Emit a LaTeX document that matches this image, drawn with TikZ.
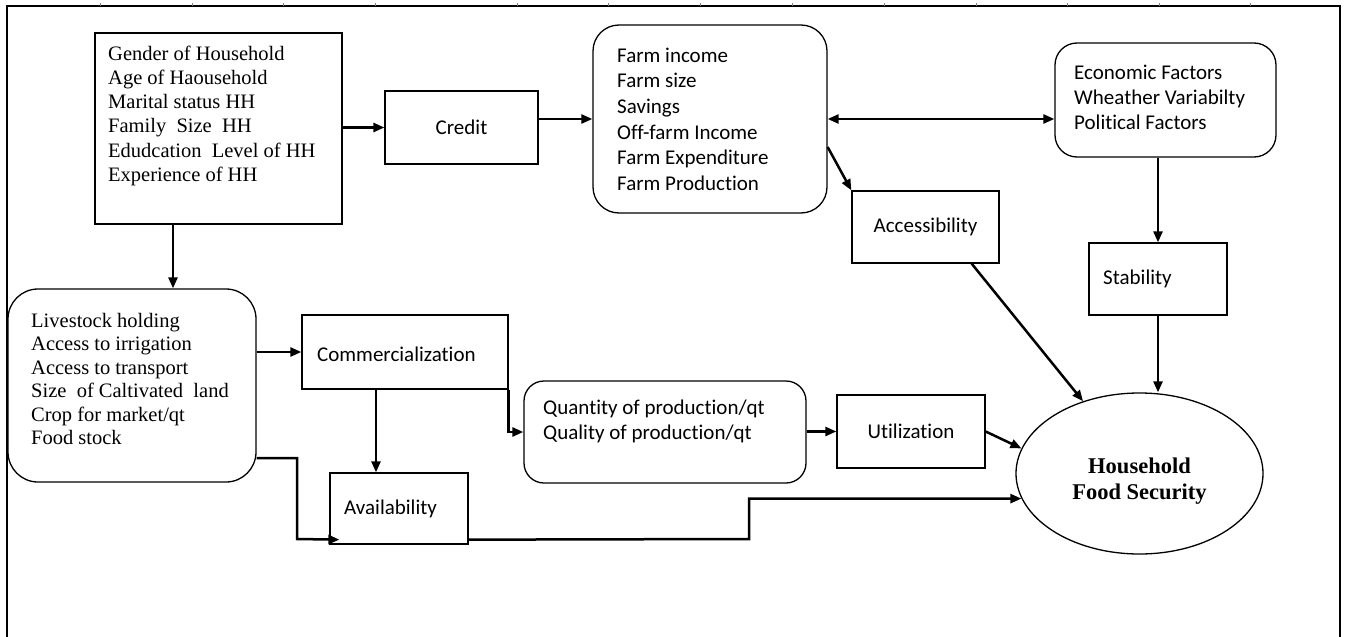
\documentclass[tikz,border=0pt]{standalone}
\usepackage{fontspec}
\setmainfont{Liberation Serif}
\newfontfamily\calfont[Ligatures=NoCommon]{Carlito}
\usetikzlibrary{arrows.meta,shapes.geometric}
\begin{document}
\begin{tikzpicture}[x=1pt,y=-1pt,
  rect/.style={draw, line width=1.3pt, inner sep=0pt, font=\calfont\fontsize{21}{25.5}\selectfont},
  rrect/.style={rect, rounded corners=#1},
  sT/.style={font=\fontsize{20.5}{24.2}\selectfont, align=left, inner sep=0pt, anchor=north west},
  cT/.style={font=\calfont\fontsize{21}{#1}\selectfont, align=left, inner sep=0pt, anchor=north west},
  cL/.style={font=\calfont\fontsize{21}{25.5}\selectfont, inner sep=0pt, anchor=west},
  arr/.style={-{Triangle[length=11pt,width=9pt]}, line width=2.5pt},
  darr/.style={{Triangle[length=11pt,width=9pt]}-{Triangle[length=11pt,width=9pt]}, line width=2.5pt}]
\useasboundingbox (0,0) rectangle (1347,637);
% frame
\draw[line width=2.3pt] (7,637) -- (7,6) -- (1340,6) -- (1340,637);
\foreach \x in {100,192,283,375,517,608,700,792,884,976,1067,1159,1250}
  \draw[line width=0.8pt, gray] (\x,2.5) -- (\x,6);
% boxes
\node[rect, minimum width=247pt, minimum height=191pt] (hh) at (218.5,128.5) {};
\node[sT] (hhT) at (108,43.1) {\strut Gender of Household\\Age of Haousehold\\Marital status HH\\Family\ \ Size\ \ HH\\Edudcation\ \ Level of HH\\Experience of HH};
\node[rect, minimum width=153pt, minimum height=73pt] (credit) at (461.5,127.5) {Credit};
\node[rrect=26pt, minimum width=234pt, minimum height=188pt] (farm) at (710,119) {};
\node[cT=25.6] (farmT) at (617,44.1) {\strut Farm income\\Farm size\\Savings\\Off-farm Income\\Farm Expenditure\\Farm Production};
\node[rrect=22pt, minimum width=221pt, minimum height=114pt] (econ) at (1165.5,100) {};
\node[cT=25] (econT) at (1074,61.5) {\strut Economic Factors\\Wheather Variabilty\\Political Factors};
\node[rect, minimum width=147pt, minimum height=72pt] (access) at (925.5,227) {Accessibility};
\node[rect, minimum width=138pt, minimum height=72pt] (stab) at (1158,279) {};
\node[cL] (stabT) at (1103,279) {Stability};
\node[rrect=30pt, minimum width=248pt, minimum height=193pt] (live) at (132,385.5) {};
\node[sT, font=\fontsize{20.5}{23.5}\selectfont] (liveT) at (31,310.5) {\strut Livestock holding\\Access to irrigation\\Access to transport\\Size\ \ of Caltivated\ \ land\\Crop for market/qt\\Food stock};
\node[rect, minimum width=206pt, minimum height=74pt] (comm) at (405,352) {};
\node[cL] (commT) at (317,354) {Commercialization};
\node[rrect=20pt, minimum width=282pt, minimum height=102pt] (qty) at (665,432) {};
\node[cT=25] (qtyT) at (543,396.5) {\strut Quantity of production/qt\\Quality of production/qt};
\node[rect, minimum width=148pt, minimum height=73pt] (util) at (911,431.5) {Utilization};
\node[rect, minimum width=138pt, minimum height=71pt] (avail) at (399,508.5) {};
\node[cL] (availT) at (344,509) {Availability};
\node[draw, ellipse, line width=1.3pt, inner sep=0pt, minimum width=247pt, minimum height=161pt] (fs) at (1139.5,473.5) {};
\node[font=\bfseries\fontsize{22.5}{26}\selectfont, align=center, inner sep=0pt, anchor=north] (fsT) at (1139.5,454.8) {\strut Household\\Food Security};
% helper coordinates
\coordinate (h1) at ([xshift=-45.5pt]hh.south);
\coordinate (c1) at ([xshift=-29pt]comm.south);
\coordinate (f1) at ([yshift=-28pt]farm.east);
\coordinate (l1) at ([yshift=-72.5pt]live.east);
\coordinate (k1) at (297,539);
\coordinate (a1) at ([xshift=10pt,yshift=5pt]avail.south west);
\coordinate (a2) at ([yshift=5pt]avail.south east);
\coordinate (k2) at (749,539);
\coordinate (s1) at ([xshift=-28pt]access.south east);
% connectors
\draw[arr] (hh.east |- credit.west) -- (credit.west);
\draw[arr] (credit.east |- farm.west) -- (farm.west);
\draw[darr] (farm.east) -- (farm.east -| econ.west);
\draw[arr] (f1) -- (access.north west);
\draw[arr] (econ.south -| stab.north) -- (stab.north);
\draw[arr] (h1) -- (h1 |- live.north);
\draw[arr] (live.east |- comm.west) -- (comm.west);
\draw[arr] (c1) -- (c1 |- avail.north);
\draw[arr] (comm.south east) |- (qty.west);
\draw[arr] (qty.east |- util.west) -- (util.west);
\draw[arr] (l1) -| (k1) -- (a1);
\draw[arr] (a2) -- (k2) |- (fs.192);
\draw[arr] (util.east) -- (fs.168);
\draw[arr] (s1) -- (fs.128);
\draw[arr] (stab.south) -- (stab.south |- fs.north);
\end{tikzpicture}
\end{document}
